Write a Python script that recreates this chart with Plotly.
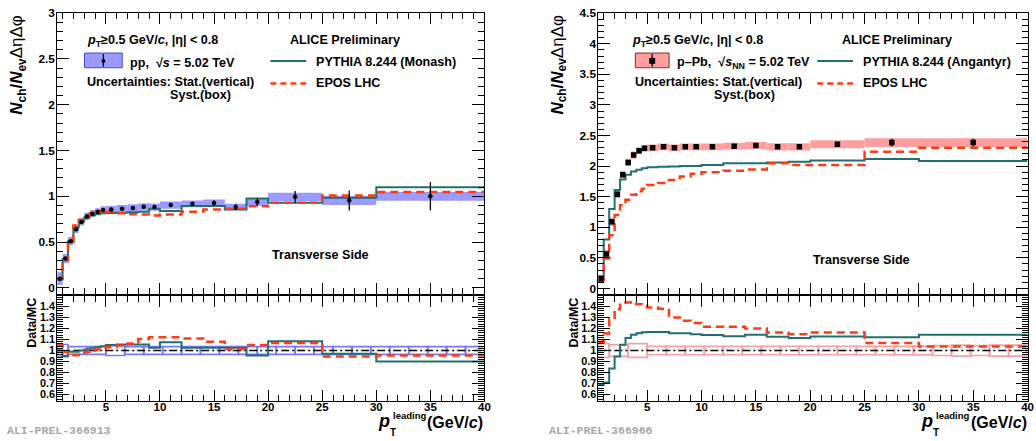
import plotly.graph_objects as go

# ---------------- data ----------------
bin_edges = [0.5, 1, 1.5, 2, 2.5, 3, 3.5, 4, 4.5, 5, 6, 7, 8, 9, 10, 12, 14, 16, 18, 20, 25, 30, 40]

pp_data = [0.10, 0.32, 0.51, 0.64, 0.72, 0.78, 0.81, 0.83, 0.85, 0.855, 0.865, 0.872, 0.885, 0.882,
           0.904, 0.918, 0.928, 0.883, 0.937, 0.994, 0.954, 1.0]
pp_stat = [0.004, 0.004, 0.004, 0.004, 0.004, 0.004, 0.005, 0.005, 0.005, 0.005, 0.006, 0.007, 0.008,
           0.009, 0.012, 0.02, 0.028, 0.032, 0.045, 0.065, 0.11, 0.155]
pp_syst = [0.07, 0.05, 0.045, 0.04, 0.04, 0.04, 0.04, 0.04, 0.04, 0.04, 0.04, 0.04, 0.04, 0.04,
           0.04, 0.037, 0.037, 0.035, 0.04, 0.045, 0.048, 0.048]
pp_pythia = [0.09, 0.315, 0.51, 0.66, 0.725, 0.768, 0.793, 0.807, 0.815, 0.818, 0.82, 0.825, 0.83,
             0.865, 0.84, 0.894, 0.894, 0.857, 0.975, 0.929, 0.983, 1.10]
pp_epos = [0.10, 0.30, 0.50, 0.68, 0.745, 0.786, 0.812, 0.83, 0.84, 0.832, 0.815, 0.805, 0.80, 0.79,
           0.80, 0.83, 0.855, 0.865, 0.89, 0.93, 1.008, 1.047]
pp_ratio_pythia = [1.0, 0.95, 0.99, 0.99, 1.0, 1.01, 1.02, 1.03, 1.04, 1.05, 1.055, 1.055, 1.055, 1.025,
                   1.075, 1.025, 1.025, 1.025, 0.955, 1.085, 0.97, 0.9]
pp_ratio_epos = [1.05, 0.99, 0.955, 0.96, 0.96, 0.99, 1.0, 1.01, 1.02, 1.03, 1.045, 1.065, 1.105, 1.12,
                 1.12, 1.11, 1.08, 1.015, 1.05, 1.068, 0.947, 0.956]

ppb_data = [0.155, 0.563, 1.09, 1.54, 1.86, 2.06, 2.18, 2.25, 2.29, 2.30, 2.315, 2.30, 2.315, 2.315,
            2.315, 2.325, 2.336, 2.315, 2.315, 2.357, 2.384, 2.384]
ppb_stat = [0.005, 0.006, 0.008, 0.008, 0.008, 0.008, 0.008, 0.008, 0.008, 0.008, 0.008, 0.009, 0.01,
            0.011, 0.012, 0.014, 0.016, 0.018, 0.022, 0.03, 0.065, 0.065]
ppb_syst = [0.07, 0.07, 0.07, 0.065, 0.06, 0.06, 0.06, 0.055, 0.055, 0.055, 0.055, 0.055, 0.055, 0.055,
            0.055, 0.055, 0.058, 0.06, 0.06, 0.065, 0.07, 0.07]
ppb_pythia = [0.20, 0.80, 1.30, 1.61, 1.78, 1.86, 1.91, 1.94, 1.966, 1.98, 1.99, 1.995, 2.0, 2.0,
              2.02, 2.047, 2.047, 2.06, 2.07, 2.09, 2.115, 2.085]
ppb_epos = [0.14, 0.49, 0.87, 1.20, 1.36, 1.45, 1.53, 1.59, 1.63, 1.69, 1.725, 1.775, 1.83, 1.875,
            1.90, 1.925, 1.945, 2.045, 2.02, 2.02, 2.235, 2.30]
ppb_ratio_pythia = [0.69, 0.71, 0.837, 0.947, 1.053, 1.113, 1.143, 1.157, 1.166, 1.169, 1.169, 1.157,
                    1.157, 1.148, 1.14, 1.13, 1.143, 1.125, 1.113, 1.128, 1.12, 1.143]
ppb_ratio_epos = [1.08, 1.155, 1.285, 1.375, 1.415, 1.435, 1.44, 1.42, 1.405, 1.39, 1.38, 1.30, 1.27,
                  1.25, 1.217, 1.215, 1.20, 1.163, 1.148, 1.163, 1.068, 1.036]

ratio_box_edges = [0.5, 1.5, 3.25, 5.0, 6.75, 8.5, 10.25, 12.0, 13.75, 15.5, 17.25, 19.0, 20.75, 22.5,
                   24.25, 26.0, 27.75, 29.5, 31.25, 33.0, 34.75, 36.5, 38.25, 40.0]
pp_ratio_syst = [0.055, 0.035, 0.035, 0.045, 0.035, 0.035, 0.035, 0.035, 0.035, 0.035, 0.035, 0.035,
                 0.035, 0.035, 0.035, 0.035, 0.035, 0.035, 0.035, 0.035, 0.035, 0.035, 0.035]
ppb_ratio_syst = [0.062, 0.052, 0.062, 0.038, 0.038, 0.038, 0.038, 0.038, 0.038, 0.038, 0.038, 0.038,
                  0.038, 0.038, 0.038, 0.038, 0.038, 0.04, 0.045, 0.05, 0.045, 0.05, 0.05]

# ---------------- styling ----------------
W, H = 1036, 441
FONT = "Liberation Sans"
TEAL = "#236f70"
RED = "#ff3a14"
BLUE_FILL = "#9b9bff"
BLUE_LINE = "#7878ff"
PINK_FILL = "#ff9e9e"
PINK_LINE = "#f7a2a2"


def px(x):
    return x / W


def py(y):
    return 1 - y / H


centers = [(a + b) / 2 for a, b in zip(bin_edges[:-1], bin_edges[1:])]
widths = [b - a for a, b in zip(bin_edges[:-1], bin_edges[1:])]
rcenters = [(a + b) / 2 for a, b in zip(ratio_box_edges[:-1], ratio_box_edges[1:])]
rwidths = [b - a for a, b in zip(ratio_box_edges[:-1], ratio_box_edges[1:])]

fig = go.Figure()


def add_panel(xa, ya, xr, yr, data, stat, syst, mc1, mc2, r1, r2, rsyst, fill, rline, msym, msize):
    fig.add_trace(go.Bar(x=centers, y=[2 * s for s in syst], base=[v - s for v, s in zip(data, syst)],
                         width=widths, marker=dict(color=fill, line=dict(width=0)),
                         xaxis=xa, yaxis=ya, hoverinfo="skip"))
    fig.add_trace(go.Bar(x=rcenters, y=[2 * s for s in rsyst], base=[1 - s for s in rsyst],
                         width=rwidths, marker=dict(color="rgba(0,0,0,0)", line=dict(width=1.7, color=rline)),
                         xaxis=xr, yaxis=yr, hoverinfo="skip"))
    fig.add_trace(go.Scatter(x=bin_edges, y=mc1 + [mc1[-1]], mode="lines", line_shape="hv",
                             line=dict(color=TEAL, width=2), xaxis=xa, yaxis=ya))
    fig.add_trace(go.Scatter(x=bin_edges, y=mc2 + [mc2[-1]], mode="lines", line_shape="hv",
                             line=dict(color=RED, width=2.5, dash="8px,5px"), xaxis=xa, yaxis=ya))
    fig.add_trace(go.Scatter(x=centers, y=data, mode="markers",
                             marker=dict(symbol=msym, size=msize, color="black"),
                             error_y=dict(type="data", array=stat, width=0, thickness=1.3, color="black"),
                             xaxis=xa, yaxis=ya))
    fig.add_trace(go.Scatter(x=[bin_edges[0], bin_edges[-1]], y=[1, 1], mode="lines",
                             line=dict(color="black", width=1.5, dash="8px,3px,2px,3px"), xaxis=xr, yaxis=yr))
    fig.add_trace(go.Scatter(x=bin_edges, y=r1 + [r1[-1]], mode="lines", line_shape="hv",
                             line=dict(color=TEAL, width=2), xaxis=xr, yaxis=yr))
    fig.add_trace(go.Scatter(x=bin_edges, y=r2 + [r2[-1]], mode="lines", line_shape="hv",
                             line=dict(color=RED, width=2.5, dash="8px,5px"), xaxis=xr, yaxis=yr))


add_panel("x", "y", "x2", "y2", pp_data, pp_stat, pp_syst, pp_pythia, pp_epos,
          pp_ratio_pythia, pp_ratio_epos, pp_ratio_syst, BLUE_FILL, BLUE_LINE, "circle", 4.5)
add_panel("x3", "y3", "x4", "y4", ppb_data, ppb_stat, ppb_syst, ppb_pythia, ppb_epos,
          ppb_ratio_pythia, ppb_ratio_epos, ppb_ratio_syst, PINK_FILL, PINK_LINE, "square", 5.5)

XL = [px(57.5), px(487.3)]
XR = [px(601.8), px(1033.6)]
YT = [py(292.5), py(6)]
YB = [py(401.7), py(295)]


def tfont(size):
    return dict(family=FONT, size=size, color="black", weight="bold")


def xax(dom, anchor, labels):
    return dict(domain=dom, anchor=anchor, range=[0.5, 40.001], showgrid=False, zeroline=False,
                showline=True, linecolor="black", linewidth=1, mirror="allticks",
                ticks="inside", ticklen=11, tickwidth=1, tickcolor="black", dtick=5, tick0=0,
                minor=dict(ticks="inside", ticklen=6, dtick=1, tickcolor="black", tickwidth=1, showgrid=False),
                showticklabels=labels, tickfont=tfont(11.5), ticklabelstandoff=-4, ticklabeloverflow="allow")


def yax(dom, anchor, rng, dtick, mdtick, fsize):
    return dict(domain=dom, anchor=anchor, range=rng, showgrid=False, zeroline=False,
                showline=True, linecolor="black", linewidth=1, mirror="allticks",
                ticks="inside", ticklen=12, tickwidth=1, tickcolor="black", dtick=dtick, tick0=0,
                minor=dict(ticks="inside", ticklen=6, dtick=mdtick, tickcolor="black", tickwidth=1, showgrid=False),
                tickfont=tfont(fsize), ticklabelstandoff=-1, ticklabeloverflow="allow")


fig.update_layout(
    width=W, height=H, margin=dict(l=0, r=0, t=0, b=0),
    paper_bgcolor="white", plot_bgcolor="white", showlegend=False, barmode="overlay",
    font=dict(family=FONT, color="black"),
    xaxis=xax(XL, "y", False), yaxis=yax(YT, "x", [-0.062, 3.003], 0.5, 0.1, 11.8),
    xaxis2=xax(XL, "y2", True), yaxis2=yax(YB, "x2", [0.547, 1.495], 0.1, 0.02, 10.8),
    xaxis3=xax(XR, "y3", False), yaxis3=yax(YT, "x3", [-0.083, 4.505], 0.5, 0.1, 11.8),
    xaxis4=xax(XR, "y4", True), yaxis4=yax(YB, "x4", [0.547, 1.495], 0.1, 0.02, 10.8),
)

ann = []


def text(x, y, t, size=12.6, xanchor="left", angle=0, yanchor="middle", color="black", family=FONT):
    ann.append(dict(x=px(x), y=py(y), xref="paper", yref="paper", text=t, showarrow=False,
                    xanchor=xanchor, yanchor=yanchor, textangle=angle, borderpad=0,
                    font=dict(family=family, size=size, color=color)))


cut = "<b><i>p</i><sub>T</sub>≥0.5 GeV/<i>c</i>, |η| &lt; 0.8</b>"
ytitle = "<b><i>N</i><sub>ch</sub>/<i>N</i><sub>ev</sub></b>ΔηΔφ"

for off, sys_label, gen_label, alinum, ts_x, unc_x, syst_x, leg_x, ts_y in [
    (0, "<b>pp,  √<i>s</i> = 5.02 TeV</b>", "<b>PYTHIA 8.244 (Monash)</b>",
     "ALI-PREL-366913", 322, 87, 170, 272, 253),
    (1, "<b>p–Pb,  √<i>s</i><sub>NN</sub> = 5.02 TeV</b>", "<b>PYTHIA 8.244 (Angantyr)</b>",
     "ALI-PREL-366966", 867, 638, 717, 822, 258),
]:
    dx = 0 if off == 0 else 546.3
    text(87 if off == 0 else 635, 35, cut)
    text(347 if off == 0 else 902, 34, "<b>ALICE Preliminary</b>", xanchor="center")
    text((130 if off == 0 else 680), 57, sys_label)
    text(leg_x + 45, 56, gen_label)
    text(unc_x, 77, "<b>Uncertainties: Stat.(vertical)</b>")
    text(syst_x, 90, "<b>Syst.(box)</b>")
    text(leg_x + 45, 78, "<b>EPOS LHC</b>")
    text(ts_x, ts_y, "<b>Transverse Side</b>", xanchor="center")
    text((18 if off == 0 else 562), 7, ytitle, size=17, xanchor="center", yanchor="top", angle=-90)
    text((32 if off == 0 else 577), 296, "<b>Data/MC</b>", size=12.5, xanchor="center", yanchor="top", angle=-90)
    # x-axis title pieces
    text(386 + dx, 423, "<b><i>p</i></b>", size=18, xanchor="center")
    text(394 + dx, 417, "<b>leading</b>", size=9.5)
    text(395 + dx, 434, "<b>T</b>", size=10, xanchor="center")
    text(487.3 + dx, 424, "<b>(GeV/<i>c</i>)</b>", size=16, xanchor="right")
    text((6 if off == 0 else 551), 432, "<b>" + alinum + "</b>", size=11.5, color="#a8a8a8",
         family="Liberation Mono")

fig.update_layout(annotations=ann)

shapes = []
for bx0, bx1, fillc, linec, lx0 in [(85, 123, BLUE_FILL, "#4a4ad0", 272), (639, 673, PINK_FILL, "#7a3030", 822)]:
    shapes.append(dict(type="rect", xref="paper", yref="paper", x0=px(bx0), x1=px(bx1), y0=py(62), y1=py(47),
                       fillcolor=fillc, line=dict(color=linec, width=1)))
    cx = (bx0 + bx1) / 2
    shapes.append(dict(type="line", xref="paper", yref="paper", x0=px(cx), x1=px(cx), y0=py(61), y1=py(48),
                       line=dict(color="black", width=1.3)))
    shapes.append(dict(type="line", xref="paper", yref="paper", x0=px(lx0), x1=px(lx0 + 36), y0=py(55), y1=py(55),
                       line=dict(color=TEAL, width=2)))
    shapes.append(dict(type="line", xref="paper", yref="paper", x0=px(lx0), x1=px(lx0 + 36), y0=py(78), y1=py(78),
                       line=dict(color=RED, width=2.5, dash="6px,4px")))
shapes.append(dict(type="circle", xref="paper", yref="paper", x0=px(102), x1=px(106), y0=py(57), y1=py(53),
                   fillcolor="black", line=dict(width=0)))
shapes.append(dict(type="rect", xref="paper", yref="paper", x0=px(653), x1=px(659), y0=py(58), y1=py(52),
                   fillcolor="black", line=dict(width=0)))
fig.update_layout(shapes=shapes)

fig.write_html("out.html", config={"displayModeBar": False},
               post_script="document.body.style.margin='0';document.body.style.overflow='hidden';")
